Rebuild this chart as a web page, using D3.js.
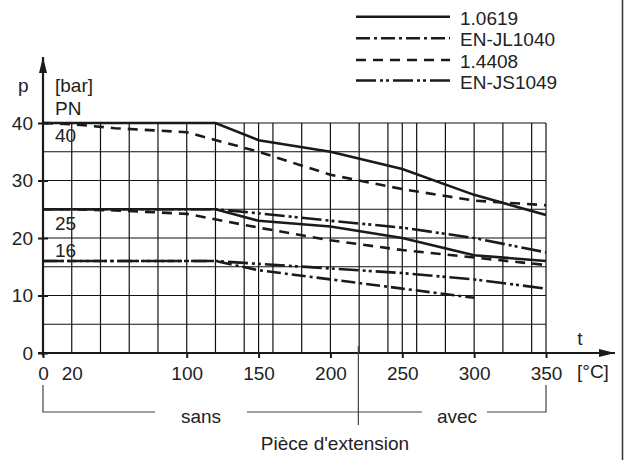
<!DOCTYPE html>
<meta charset="utf-8">
<style>
    body { margin: 0; background: #fff; }
    text { font-family: "Liberation Sans", Arial, sans-serif; fill: #222; }
</style>
<body>
<script src="https://cdn.jsdelivr.net/npm/d3@7"></script>
<script>

    var width = 625, height = 460;

    // data
    var t_1_0619 = [0, 120, 150, 200, 250, 300, 350];
    var p_1_0619_PN40 = [40, 40, 37, 35, 32, 27.5, 24];
    var p_1_0619_PN25 = [25, 25, 23, 22, 20, 17, 16];

    var t_1_4408 = [0, 20, 50, 100, 150, 200, 250, 300, 350];
    var p_1_4408_PN40 = [40, 39.8, 39.1, 38.4, 35, 31, 28.5, 26.5, 25.7];
    var p_1_4408_PN25 = [25, 25, 24.8, 24.2, 21.8, 19.6, 17.9, 16.6, 15.3];

    var t_JS1049 = [0, 120, 150, 200, 250, 300, 350];
    var p_JS1049_PN25 = [25, 25, 24.3, 23, 21.8, 20, 17.5];
    var p_JS1049_PN16 = [16, 16, 15.5, 14.7, 13.9, 12.8, 11.2];

    var t_JL1040 = [0, 120, 150, 200, 250, 300];
    var p_JL1040_PN16 = [16, 16, 14.4, 12.8, 11.2, 9.6];

    var materials = ['1.0619', 'EN-JL1040', '1.4408', 'EN-JS1049'];
    var dashes = ['none', '14,4,3,4', '10,7', '20,4,3,3,3,4'];

    var xTickLabels = [0, 20, 100, 150, 200, 250, 300, 350];
    var xTickMarks = [0, 100, 150, 200, 250, 300, 350];
    var yTickLabels = [0, 10, 20, 30, 40];
    var xGrid = [20, 40, 60, 80, 100, 120, 140, 150, 160, 180, 200, 220, 240, 250, 260, 280, 300, 320, 340, 350];
    var yGrid = [5, 10, 15, 20, 25, 30, 35, 40];
    var pnLabels = [40, 25, 16];

    var series = [
        {mat: 0, t: t_1_0619, p: p_1_0619_PN40},
        {mat: 0, t: t_1_0619, p: p_1_0619_PN25},
        {mat: 2, t: t_1_4408, p: p_1_4408_PN40},
        {mat: 2, t: t_1_4408, p: p_1_4408_PN25},
        {mat: 3, t: t_JS1049, p: p_JS1049_PN25},
        {mat: 3, t: t_JS1049, p: p_JS1049_PN16},
        {mat: 1, t: t_JL1040, p: p_JL1040_PN16}
    ];

    var x = d3.scaleLinear().domain([0, 350]).range([43, 546]);
    var y = d3.scaleLinear().domain([0, 40]).range([353, 123]);

    var svg = d3.select('body').append('svg')
        .attr('width', width)
        .attr('height', height);

    // frame line on the right
    svg.append('line')
        .attr('x1', 622.5).attr('x2', 622.5)
        .attr('y1', 0).attr('y2', height)
        .attr('stroke', '#333').attr('stroke-width', 1.5);

    // grid
    var grid = svg.append('g').attr('class', 'grid');
    grid.selectAll('line.v')
        .data(xGrid)
        .enter().append('line')
        .attr('class', 'v')
        .attr('x1', function(d) { return x(d); })
        .attr('x2', function(d) { return x(d); })
        .attr('y1', y(40)).attr('y2', y(0))
        .attr('stroke', '#111').attr('stroke-width', 1.2);
    grid.selectAll('line.h')
        .data(yGrid)
        .enter().append('line')
        .attr('class', 'h')
        .attr('x1', x(0)).attr('x2', x(350))
        .attr('y1', function(d) { return y(d); })
        .attr('y2', function(d) { return y(d); })
        .attr('stroke', '#111').attr('stroke-width', 1.2);

    // data lines
    var line = d3.line()
        .x(function(d) { return x(d[0]); })
        .y(function(d) { return y(d[1]); });

    svg.append('g').selectAll('path')
        .data(series)
        .enter().append('path')
        .attr('d', function(s) { return line(d3.zip(s.t, s.p)); })
        .attr('fill', 'none')
        .attr('stroke', '#1a1a1a')
        .attr('stroke-width', 2.6)
        .attr('stroke-dasharray', function(s) { return dashes[s.mat]; });

    // axes
    var defs = svg.append('defs');
    defs.append('marker')
        .attr('id', 'arrow')
        .attr('viewBox', '0 0 16 8')
        .attr('refX', 16).attr('refY', 4)
        .attr('markerWidth', 16).attr('markerHeight', 8)
        .attr('markerUnits', 'userSpaceOnUse')
        .attr('orient', 'auto')
        .append('path')
        .attr('d', 'M0,0 L16,4 L0,8 Z')
        .attr('fill', '#1a1a1a');

    svg.append('line')
        .attr('x1', 38).attr('x2', 615)
        .attr('y1', y(0)).attr('y2', y(0))
        .attr('stroke', '#1a1a1a').attr('stroke-width', 2.2)
        .attr('marker-end', 'url(#arrow)');
    svg.append('line')
        .attr('x1', x(0)).attr('x2', x(0))
        .attr('y1', y(0) + 3).attr('y2', 57)
        .attr('stroke', '#1a1a1a').attr('stroke-width', 2.2)
        .attr('marker-end', 'url(#arrow)');

    var xAxis = d3.axisBottom(x)
        .tickValues(xTickLabels)
        .tickSize(5)
        .tickPadding(9)
        .tickFormat(d3.format('d'));
    var gx = svg.append('g')
        .attr('transform', 'translate(0,' + y(0) + ')')
        .call(xAxis);
    gx.select('.domain').remove();
    gx.selectAll('.tick line')
        .attr('stroke', '#1a1a1a').attr('stroke-width', 2)
        .style('display', function(d) { return xTickMarks.indexOf(d) < 0 ? 'none' : null; });
    gx.selectAll('.tick text')
        .style('font-family', '"Liberation Sans", Arial, sans-serif')
        .style('font-size', '19px')
        .attr('fill', '#222');

    var yAxis = d3.axisLeft(y)
        .tickValues(yTickLabels)
        .tickSize(5)
        .tickPadding(5)
        .tickFormat(d3.format('d'));
    var gy = svg.append('g')
        .attr('transform', 'translate(' + x(0) + ',0)')
        .call(yAxis);
    gy.select('.domain').remove();
    gy.selectAll('.tick line')
        .attr('x1', 5)
        .attr('stroke', '#1a1a1a').attr('stroke-width', 2);
    gy.selectAll('.tick text')
        .style('font-family', '"Liberation Sans", Arial, sans-serif')
        .style('font-size', '19px')
        .attr('fill', '#222');

    // axis titles
    var label = function(tx, ty, str, anchor) {
        return svg.append('text')
            .attr('x', tx).attr('y', ty)
            .attr('text-anchor', anchor || 'start')
            .style('font-size', '19px')
            .text(str);
    };
    label(18, 92, 'p');
    label(55, 92, '[bar]');
    label(55, 115, 'PN');
    label(580, 345, 't', 'middle');
    label(577, 378, '[\u00b0C]');

    svg.selectAll('text.pn')
        .data(pnLabels)
        .enter().append('text')
        .attr('class', 'pn')
        .attr('x', 55)
        .attr('y', function(d) { return y(d) + 19; })
        .style('font-size', '19px')
        .text(function(d) { return d; });
    svg.selectAll('text.pn')
        .filter(function(d) { return d === 16; })
        .attr('y', y(16) - 4);
    svg.selectAll('text.pn')
        .filter(function(d) { return d === 25; })
        .attr('y', y(25) + 21);

    // extension bracket
    var br = svg.append('g')
        .attr('stroke', '#444').attr('stroke-width', 1.2).attr('fill', 'none');
    br.append('path')
        .attr('d', 'M' + x(0) + ',385 V412 H155');
    br.append('path')
        .attr('d', 'M247,412 H422');
    br.append('path')
        .attr('d', 'M487,412 H' + x(350) + ' V385');
    br.append('line')
        .attr('x1', x(220) - 0.8).attr('x2', x(220) - 0.8)
        .attr('y1', 346).attr('y2', 425);

    label(201, 423, 'sans', 'middle');
    label(457, 423, 'avec', 'middle');
    label(335, 450, 'Pi\u00e8ce d\'extension', 'middle');

    // legend
    var legend = svg.append('g').attr('class', 'legend');
    var legendY = [16.7, 38.3, 60, 80.5];
    var item = legend.selectAll('g')
        .data(materials)
        .enter().append('g')
        .attr('transform', function(d, i) { return 'translate(0,' + legendY[i] + ')'; });
    item.append('line')
        .attr('x1', 356).attr('x2', 450)
        .attr('stroke', '#1a1a1a').attr('stroke-width', 2.6)
        .attr('stroke-dasharray', function(d, i) { return dashes[i]; });
    item.append('text')
        .attr('x', 460).attr('y', 8)
        .style('font-size', '19px')
        .text(function(d) { return d; });

</script>
</body>
